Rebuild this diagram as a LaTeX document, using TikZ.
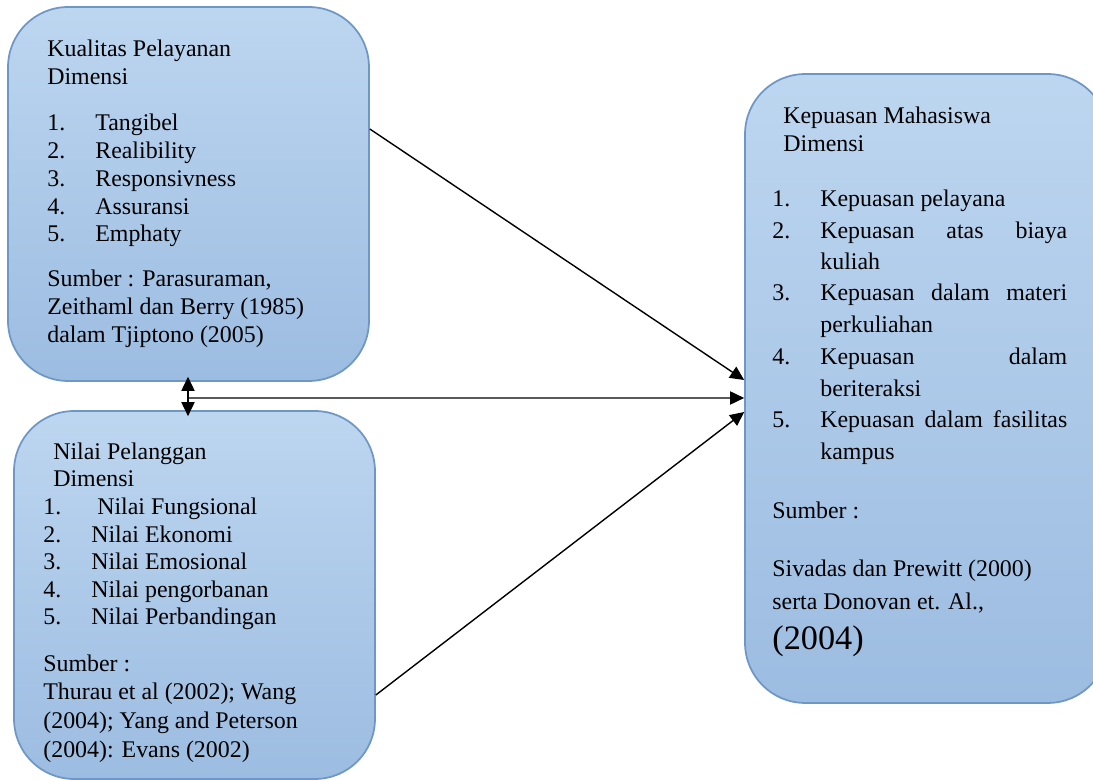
\documentclass[tikz,border=0pt]{standalone}
\usepackage{fontspec}
\setmainfont{Liberation Serif}
\usetikzlibrary{arrows.meta}
\definecolor{boxtop}{RGB}{189,214,240}
\definecolor{boxbottom}{RGB}{156,188,225}
\definecolor{boxedge}{RGB}{111,151,197}

\begin{document}
\begin{tikzpicture}[x=0.02cm, y=-0.02cm, >={Triangle[length=8pt,width=7.5pt]},
  dimbox/.style={draw=boxedge, line width=1pt, rounded corners=1.2cm,
    top color=boxtop, bottom color=boxbottom, inner sep=0pt},
  txt/.style={anchor=base west, inner sep=0pt, font=\fontsize{13.6}{15.6}\selectfont},
  conn/.style={line width=0.8pt}]
\useasboundingbox (0,0) rectangle (1093,780);
\clip (0,0) rectangle (1093,780);
% The three dimension boxes
\node[dimbox, minimum width=7.22cm, minimum height=7.48cm] (kualitas) at (188.5,194) {};
\node[dimbox, minimum width=7.22cm, minimum height=7.36cm] (nilai) at (194.5,595) {};
\node[dimbox, minimum width=7.26cm, minimum height=12.58cm] (kepuasan) at (926.5,388.5) {};
% Kualitas Pelayanan
\node[txt] (kq-title) at (47,57) {Kualitas Pelayanan};
\node[txt] (kq-dim) at (47,85) {Dimensi};
\foreach \entry [count=\i] in {Tangibel, Realibility, Responsivness, Assuransi, Emphaty}
  \node[txt] (kq-\i) at (47,{131+27.7*(\i-1)}) {\makebox[0.96cm][l]{\i.}\entry};
\node[txt] (kq-src1) at (47,287) {Sumber : Parasuraman,};
\node[txt] (kq-src2) at (47,315) {Zeithaml dan Berry (1985)};
\node[txt] (kq-src3) at (47,343) {dalam Tjiptono (2005)};
% Nilai Pelanggan (text cut off by the box)
\begin{scope}
  \clip (0,0) rectangle (400,761);
  \node[txt] (np-title) at (53,460) {Nilai Pelanggan};
  \node[txt] (np-dim) at (53,487) {Dimensi};
  \foreach \w/\entry [count=\i] in {1.08/Nilai Fungsional, 0.96/Nilai Ekonomi,
      0.96/Nilai Emosional, 0.96/Nilai pengorbanan, 0.96/Nilai Perbandingan}
    \node[txt] (np-\i) at (43,{515+27.5*(\i-1)}) {\makebox[\w cm][l]{\i.}\entry};
  \node[txt] (np-src1) at (43,672) {Sumber :};
  \node[txt] (np-src2) at (43,700) {Thurau et al (2002); Wang};
  \node[txt] (np-src3) at (43,728) {(2004); Yang and Peterson};
  \node[txt] (np-src4) at (43,757) {(2004): Evans (2002)};
\end{scope}
% Kepuasan Mahasiswa
\node[txt] (km-title) at (783,124) {Kepuasan Mahasiswa};
\node[txt] (km-dim) at (783,152) {Dimensi};
\node[txt] (km-1) at (772,207) {\makebox[0.96cm][l]{1.}Kepuasan pelayana};
\node[txt] (km-2) at (772,239) {\makebox[0.96cm][l]{2.}\makebox[4.94cm][s]{Kepuasan atas biaya}};
\node[txt] (km-2b) at (820,270) {kuliah};
\node[txt] (km-3) at (772,301) {\makebox[0.96cm][l]{3.}\makebox[4.94cm][s]{Kepuasan dalam materi}};
\node[txt] (km-3b) at (820,333) {perkuliahan};
\node[txt] (km-4) at (772,365) {\makebox[0.96cm][l]{4.}\makebox[4.94cm][s]{Kepuasan dalam}};
\node[txt] (km-4b) at (820,397) {beriteraksi};
\node[txt] (km-5) at (772,428) {\makebox[0.96cm][l]{5.}\makebox[4.94cm][s]{Kepuasan dalam fasilitas}};
\node[txt] (km-5b) at (820,460) {kampus};
\node[txt] (km-src1) at (772,519) {Sumber :};
\node[txt] (km-src2) at (772,577) {Sivadas dan Prewitt (2000)};
\node[txt] (km-src3) at (772,610) {serta Donovan et. Al.,};
\node[txt, font=\fontsize{19.5}{22}\selectfont] (km-src4) at (772,650) {(2004)};
% Connectors
\coordinate (junction) at (188,398);
\draw[conn,->] (junction) -- ([yshift=0.1cm]junction |- kualitas.south);
\draw[conn,->] (junction) -- ([yshift=-0.12cm]junction |- nilai.north);
\draw[conn,->] (junction) -- ([yshift=-0.19cm]kepuasan.west);
\draw[conn,->] ([yshift=1.3cm]kualitas.east) -- ([yshift=0.17cm]kepuasan.west);
\draw[conn,->] ([yshift=-2cm]nilai.east) -- ([yshift=-0.47cm]kepuasan.west);
\end{tikzpicture}
\end{document}
